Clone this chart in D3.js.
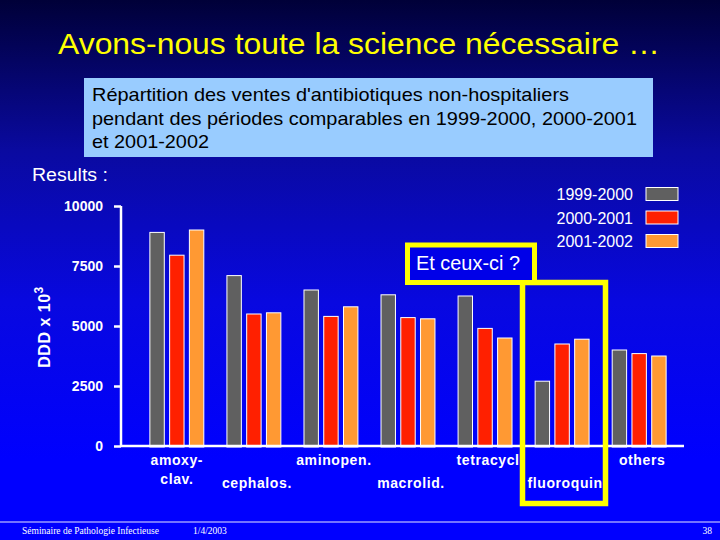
<!DOCTYPE html>
<html><head><meta charset="utf-8">
<script src="https://cdn.jsdelivr.net/npm/d3@7"></script>
<style>body{margin:0;padding:0;overflow:hidden}svg{display:block}</style>
</head><body>
<script>
const categories = ["amoxy-clav.", "cephalos.", "aminopen.", "macrolid.", "tetracycl", "fluoroquin", "others"];
const categoryLines = [["amoxy-", "clav."], ["cephalos."], ["aminopen."], ["macrolid."], ["tetracycl"], ["fluoroquin"], ["others"]];
const seriesNames = ["1999-2000", "2000-2001", "2001-2002"];
const seriesColors = ["#606060", "#ff2000", "#ff9933"];
const values1999 = [8900, 7100, 6500, 6300, 6250, 2700, 4000];
const values2000 = [7950, 5500, 5400, 5350, 4900, 4250, 3850];
const values2001 = [9000, 5550, 5800, 5300, 4500, 4450, 3750];
const yTicks = [0, 2500, 5000, 7500, 10000];
const series = [values1999, values2000, values2001];

const W = 720, H = 540;
const svg = d3.select("body").append("svg").attr("width", W).attr("height", H);
const defs = svg.append("defs");
const grad = defs.append("linearGradient").attr("id", "bg").attr("x1", 0).attr("y1", 0).attr("x2", 0).attr("y2", 1);
grad.append("stop").attr("offset", "0").attr("stop-color", "#000038");
grad.append("stop").attr("offset", "0.28").attr("stop-color", "#0a0aa0");
grad.append("stop").attr("offset", "0.56").attr("stop-color", "#0808e0");
grad.append("stop").attr("offset", "0.85").attr("stop-color", "#0000ff");
grad.append("stop").attr("offset", "1").attr("stop-color", "#0000ff");
svg.append("rect").attr("width", W).attr("height", H).attr("fill", "url(#bg)");

const sans = "'Liberation Sans', Arial, sans-serif";

// Title
svg.append("text").attr("x", 58).attr("y", 54)
  .attr("fill", "#ffff00").attr("font-family", sans).attr("font-size", 30)
  .attr("textLength", 602).attr("lengthAdjust", "spacingAndGlyphs")
  .text("Avons-nous toute la science nécessaire …");

// Subtitle box
svg.append("rect").attr("x", 84).attr("y", 78).attr("width", 569).attr("height", 79).attr("fill", "#99ccff");
const sub = ["Répartition des ventes d'antibiotiques non-hospitaliers",
  "pendant des périodes comparables en 1999-2000, 2000-2001",
  "et 2001-2002"];
const subLen = [477, 545, 117];
sub.forEach((t, i) => svg.append("text").attr("x", 92).attr("y", 101 + i * 23.5)
  .attr("fill", "#000").attr("font-family", sans).attr("font-size", 19)
  .attr("textLength", subLen[i]).attr("lengthAdjust", "spacingAndGlyphs").text(t));

svg.append("text").attr("x", 32).attr("y", 181).attr("fill", "#fff")
  .attr("font-family", sans).attr("font-size", 18)
  .attr("textLength", 76).attr("lengthAdjust", "spacingAndGlyphs").text("Results :");

// Scales
const x = d3.scaleBand().domain(categories).range([136, 680]).paddingInner(0.3).paddingOuter(0.18);
const xs = d3.scaleBand().domain(seriesNames).range([0, x.bandwidth()]).paddingInner(0.27);
const y = d3.scaleLinear().domain([0, 10000]).range([446, 206]);

// Bars
const g = svg.append("g");
categories.forEach((c, ci) => {
  seriesNames.forEach((s, si) => {
    const v = series[si][ci];
    g.append("rect").attr("x", x(c) + xs(s)).attr("y", y(v))
      .attr("width", xs.bandwidth()).attr("height", y(0) - y(v) + 1)
      .attr("fill", seriesColors[si]).attr("stroke", "#fff").attr("stroke-width", 1);
  });
});

// Y axis
const yAxis = d3.axisLeft(y).tickValues(yTicks).tickSize(7).tickPadding(11).tickFormat(d3.format("d"));
const ya = svg.append("g").attr("transform", "translate(121,0)").call(yAxis);
ya.select(".domain").attr("stroke", "#fff").attr("stroke-width", 2.5).attr("d", `M0,${y(10000)}V${y(0)}`);
ya.selectAll(".tick line").attr("stroke", "#fff").attr("stroke-width", 2.5);
ya.selectAll(".tick text").attr("fill", "#fff").attr("font-family", sans).attr("font-size", 14).attr("font-weight", "bold");

// X axis line
const xa = svg.append("g").attr("transform", `translate(0,${y(0)})`)
  .call(d3.axisBottom(x).tickSize(0).tickFormat(""));
xa.select(".domain").attr("stroke", "#fff").attr("stroke-width", 2.5).attr("d", "M121,0H684");

// Category labels
categoryLines.forEach((lines, ci) => {
  const cx = x(categories[ci]) + x.bandwidth() / 2 + (ci === 0 ? 0 : 3);
  const baseY = (ci % 2 === 1) ? 488 : 465;
  lines.forEach((t, li) => {
    svg.append("text").attr("x", cx).attr("y", baseY + li * 19)
      .attr("text-anchor", "middle").attr("fill", "#fff").attr("font-family", sans)
      .attr("font-size", 14).attr("font-weight", "bold").attr("letter-spacing", 0.6).text(t);
  });
});

// Y label
svg.append("text").attr("transform", "translate(50,327) rotate(-90)").attr("text-anchor", "middle")
  .attr("fill", "#fff").attr("font-family", sans).attr("font-size", 16).attr("font-weight", "bold")
  .attr("letter-spacing", 0.5)
  .text("DDD x 10").append("tspan").attr("dy", -7).attr("font-size", 12).text("3");

// Legend
seriesNames.forEach((s, i) => {
  const cy = 194 + i * 23.5;
  svg.append("text").attr("x", 633).attr("y", cy + 6).attr("text-anchor", "end")
    .attr("fill", "#fff").attr("font-family", sans).attr("font-size", 16).text(s);
  svg.append("rect").attr("x", 646).attr("y", cy - 6.5).attr("width", 32).attr("height", 13)
    .attr("fill", seriesColors[i]).attr("stroke", "#fff").attr("stroke-width", 1);
});

// Highlight boxes
svg.append("rect").attr("x", 522.5).attr("y", 282.5).attr("width", 83).attr("height", 221)
  .attr("fill", "none").attr("stroke", "#ffff00").attr("stroke-width", 5.5);
svg.append("rect").attr("x", 407.5).attr("y", 245).attr("width", 127).attr("height", 37.5)
  .attr("fill", "#0000e8").attr("stroke", "#ffff00").attr("stroke-width", 5);
svg.append("text").attr("x", 416).attr("y", 270).attr("fill", "#fff").attr("font-family", sans)
  .attr("font-size", 20).attr("textLength", 104).attr("lengthAdjust", "spacingAndGlyphs").text("Et ceux-ci ?");

// Footer
svg.append("line").attr("x1", 0).attr("x2", 720).attr("y1", 522).attr("y2", 522).attr("stroke", "#e8e8ff").attr("stroke-width", 1);
const serif = "'Liberation Serif', 'Times New Roman', serif";
svg.append("text").attr("x", 22).attr("y", 534).attr("fill", "#fff").attr("font-family", serif).attr("font-size", 9.5).text("Séminaire de Pathologie Infectieuse");
svg.append("text").attr("x", 193).attr("y", 534).attr("fill", "#fff").attr("font-family", serif).attr("font-size", 9.5).text("1/4/2003");
svg.append("text").attr("x", 712).attr("y", 534).attr("text-anchor", "end").attr("fill", "#fff").attr("font-family", serif).attr("font-size", 9.5).text("38");
</script>
</body></html>
